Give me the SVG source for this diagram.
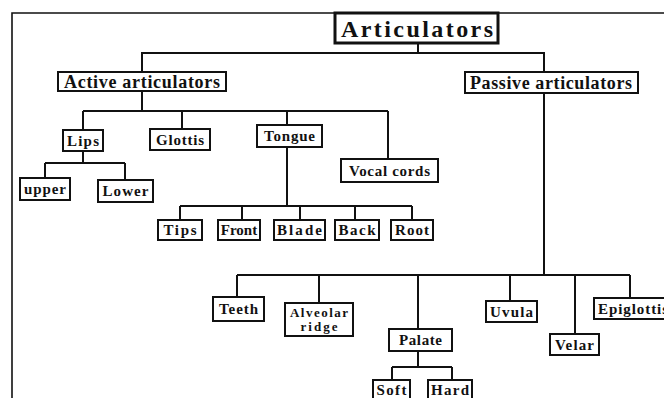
<svg xmlns="http://www.w3.org/2000/svg" width="664" height="398" viewBox="0 0 664 398">
<style>
.frame{fill:none;stroke:#111;stroke-width:1.6}
.box{fill:#fff;stroke:#111;stroke-width:2}
.big{fill:#fff;stroke:#111;stroke-width:3}
.con{fill:none;stroke:#111;stroke-width:2}
text{font-family:"Liberation Serif","Times New Roman",serif;font-weight:bold;fill:#111;text-anchor:middle}
.s{font-size:15px}
.t{font-size:13px}
.m{font-size:18px}
.l{font-size:24px}
</style>
<rect width="664" height="398" fill="#fff"/>
<path class="frame" d="M12,398 V13 H664"/>
<g id="connectors">
<path class="con" d="M418,43 V53 M142,72 V53 H544 V72"/>
<path class="con" d="M142,91 V111 M83,111 H388 M83,111 V130 M182,111 V129 M287,111 V125 M388,111 V159"/>
<path class="con" d="M83,151 V163 M45,163 H125 M45,163 V178 M125,163 V180"/>
<path class="con" d="M287,147 V206 M180,206 H412 M180,206 V220 M242,206 V220 M300,206 V220 M355,206 V220 M412,206 V220"/>
<path class="con" d="M544,93 V275 M237,275 H630 M237,275 V297 M319,275 V303 M418,275 V329 M510,275 V301 M575,275 V334 M630,275 V298"/>
<path class="con" d="M418,351 V367 M392,367 H452 M392,367 V380 M452,367 V380"/>
</g>
<g id="articulators"><rect class="big" x="335" y="13" width="163" height="30"/><text class="l" x="417" y="36.5" textLength="152" lengthAdjust="spacing">Articulators</text></g>
<g id="active"><rect class="box" x="58" y="72" width="168" height="19"/><text class="m" x="142" y="87.5" textLength="156" lengthAdjust="spacing">Active articulators</text></g>
<g id="passive"><rect class="box" x="465" y="72" width="173" height="21"/><text class="m" x="551" y="88.5" textLength="162" lengthAdjust="spacing">Passive articulators</text></g>
<g id="lips"><rect class="box" x="63" y="130" width="40" height="21"/><text class="s" x="83" y="145.5" textLength="32" lengthAdjust="spacing">Lips</text></g>
<g id="glottis"><rect class="box" x="150" y="129" width="60" height="21"/><text class="s" x="180" y="144.5" textLength="48" lengthAdjust="spacing">Glottis</text></g>
<g id="tongue"><rect class="box" x="257" y="125" width="65" height="22"/><text class="s" x="289.5" y="141" textLength="51" lengthAdjust="spacing">Tongue</text></g>
<g id="vocal-cords"><rect class="box" x="341" y="159" width="97" height="23"/><text class="s" x="389.5" y="175.5" textLength="81" lengthAdjust="spacing">Vocal cords</text></g>
<g id="upper"><rect class="box" x="20" y="178" width="50" height="22"/><text class="s" x="45" y="193.5" textLength="42" lengthAdjust="spacing">upper</text></g>
<g id="lower"><rect class="box" x="98" y="180" width="55" height="22"/><text class="s" x="125.5" y="196" textLength="46" lengthAdjust="spacing">Lower</text></g>
<g id="tips"><rect class="box" x="158" y="220" width="44" height="20"/><text class="s" x="180" y="235" textLength="33" lengthAdjust="spacing">Tips</text></g>
<g id="front"><rect class="box" x="218" y="220" width="42" height="20"/><text class="s" x="239" y="235">Front</text></g>
<g id="blade"><rect class="box" x="274" y="220" width="51" height="20"/><text class="s" x="299.5" y="235" textLength="45" lengthAdjust="spacing">Blade</text></g>
<g id="back"><rect class="box" x="335" y="220" width="44" height="20"/><text class="s" x="357" y="235" textLength="37" lengthAdjust="spacing">Back</text></g>
<g id="root"><rect class="box" x="391" y="220" width="42" height="20"/><text class="s" x="412" y="235" textLength="34" lengthAdjust="spacing">Root</text></g>
<g id="teeth"><rect class="box" x="213" y="297" width="51" height="24"/><text class="s" x="238.5" y="314" textLength="39" lengthAdjust="spacing">Teeth</text></g>
<g id="alveolar-ridge"><rect class="box" x="285" y="303" width="68" height="33"/><text class="t" x="319" y="317" textLength="58" lengthAdjust="spacing">Alveolar</text><text class="t" x="319" y="331" textLength="37" lengthAdjust="spacing">ridge</text></g>
<g id="palate"><rect class="box" x="389" y="329" width="63" height="22"/><text class="s" x="420.5" y="345" textLength="43" lengthAdjust="spacing">Palate</text></g>
<g id="soft"><rect class="box" x="373" y="380" width="37" height="19"/><text class="s" x="391.5" y="394.5" textLength="30" lengthAdjust="spacing">Soft</text></g>
<g id="hard"><rect class="box" x="428" y="380" width="44" height="19"/><text class="s" x="450" y="394.5" textLength="38" lengthAdjust="spacing">Hard</text></g>
<g id="uvula"><rect class="box" x="486" y="301" width="51" height="21"/><text class="s" x="511.5" y="316.5" textLength="43" lengthAdjust="spacing">Uvula</text></g>
<g id="velar"><rect class="box" x="550" y="334" width="49" height="21"/><text class="s" x="574.5" y="349.5" textLength="39" lengthAdjust="spacing">Velar</text></g>
<g id="epiglottis"><rect class="box" x="594" y="298" width="74" height="21"/><text class="s" x="633" y="313.5" textLength="70" lengthAdjust="spacing">Epiglottis</text></g>
</svg>
